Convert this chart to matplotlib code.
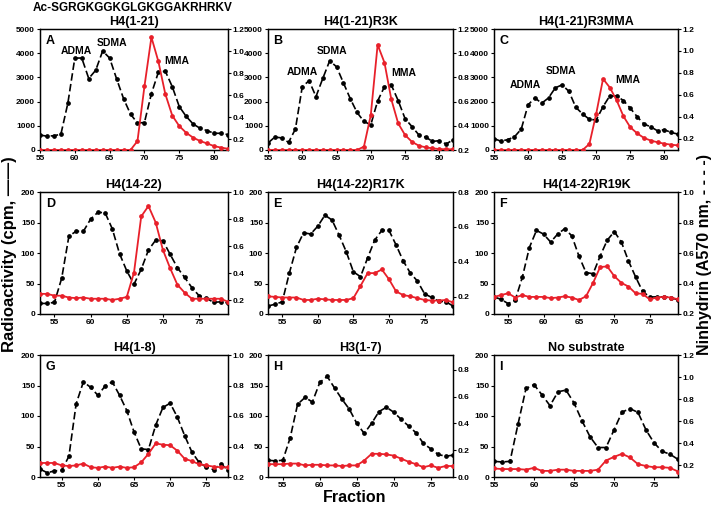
import matplotlib
matplotlib.use("Agg")
import matplotlib.pyplot as plt

plt.rcParams['font.family'] = ['Liberation Sans', 'DejaVu Sans']
plt.rcParams['font.weight'] = 'bold'
plt.rcParams['axes.labelweight'] = 'bold'

# ---- data ----
frac_A = list(range(55, 83))
red_A = [0, 0, 0, 0, 0, 0, 0, 0, 0, 0, 0, 0, 0, 0, 370, 2630, 4660, 3660, 2310, 1420,
         990, 710, 510, 370, 270, 160, 100, 50]
black_A = [0.237, 0.225, 0.23, 0.243, 0.525, 0.936, 0.936, 0.75, 0.825, 1.0, 0.936, 0.747,
           0.567, 0.426, 0.345, 0.35, 0.612, 0.807, 0.816, 0.675, 0.495, 0.405, 0.336, 0.297,
           0.276, 0.252, 0.252, 0.24]

frac_B = list(range(55, 83))
red_B = [0, 0, 0, 0, 0, 0, 0, 0, 0, 0, 0, 0, 0, 0, 140, 1440, 4350, 3610, 2090, 1100,
         620, 340, 180, 110, 70, 40, 30, 30]
black_B = [0.258, 0.307, 0.3, 0.263, 0.373, 0.723, 0.773, 0.641, 0.792, 0.937, 0.888, 0.756,
           0.625, 0.51, 0.436, 0.408, 0.605, 0.723, 0.737, 0.608, 0.46, 0.394, 0.326, 0.307,
           0.271, 0.277, 0.249, 0.285]

frac_C = list(range(55, 83))
red_C = [0, 0, 0, 0, 0, 0, 0, 0, 0, 0, 0, 0, 0, 0, 250, 1500, 2940, 2580, 2050, 1390,
         940, 690, 500, 390, 320, 260, 220, 190]
black_C = [0.2, 0.175, 0.19, 0.215, 0.286, 0.507, 0.571, 0.522, 0.571, 0.663, 0.69, 0.63,
           0.485, 0.424, 0.375, 0.369, 0.491, 0.59, 0.587, 0.547, 0.476, 0.4, 0.332, 0.307,
           0.27, 0.28, 0.255, 0.24]

frac_D = list(range(53, 80))
red_D = [33, 33, 30, 30, 27, 26, 27, 25, 25, 25, 23, 25, 28, 68, 160, 177, 150, 105, 75,
         48, 35, 25, 25, 25, 25, 25, 20]
black_D = [0.178, 0.178, 0.186, 0.364, 0.675, 0.71, 0.71, 0.8, 0.85, 0.847, 0.728, 0.545,
           0.418, 0.32, 0.43, 0.572, 0.645, 0.64, 0.54, 0.442, 0.37, 0.295, 0.235, 0.217,
           0.186, 0.19, 0.181]

frac_E = list(range(53, 80))
red_E = [29, 28, 27, 27, 27, 23, 23, 25, 24, 23, 23, 23, 26, 46, 67, 67, 73, 57, 37, 31,
         29, 26, 23, 22, 22, 23, 19]
black_E = [0.146, 0.156, 0.17, 0.335, 0.482, 0.566, 0.559, 0.604, 0.667, 0.639, 0.552,
           0.457, 0.342, 0.314, 0.422, 0.524, 0.58, 0.58, 0.496, 0.405, 0.335, 0.289, 0.216,
           0.195, 0.174, 0.17, 0.146]

frac_F = list(range(53, 80))
red_F = [28, 31, 34, 27, 31, 28, 28, 28, 26, 27, 29, 27, 23, 29, 51, 77, 78, 62, 51, 45,
         34, 33, 24, 27, 28, 27, 24]
black_F = [0.312, 0.296, 0.268, 0.292, 0.44, 0.636, 0.748, 0.724, 0.672, 0.724, 0.76, 0.712,
           0.58, 0.472, 0.464, 0.58, 0.684, 0.74, 0.672, 0.548, 0.444, 0.348, 0.312, 0.312,
           0.312, 0.308, 0.292]

frac_G = list(range(52, 79))
red_G = [23, 23, 23, 19, 18, 19, 22, 16, 15, 17, 15, 17, 15, 16, 24, 38, 55, 53, 52, 43,
         30, 26, 21, 19, 17, 16, 16]
black_G = [0.252, 0.228, 0.24, 0.244, 0.336, 0.68, 0.824, 0.788, 0.736, 0.796, 0.824, 0.736,
           0.636, 0.496, 0.384, 0.38, 0.54, 0.656, 0.684, 0.592, 0.472, 0.364, 0.296, 0.264,
           0.248, 0.288, 0.244]

frac_H = list(range(53, 79))
red_H = [21, 21, 21, 22, 22, 19, 20, 20, 19, 19, 18, 19, 19, 27, 38, 38, 37, 35, 30, 25,
         21, 16, 19, 15, 18, 18]
black_H = [0.125, 0.12, 0.125, 0.293, 0.543, 0.593, 0.56, 0.705, 0.75, 0.663, 0.58, 0.505,
           0.4, 0.325, 0.4, 0.488, 0.52, 0.483, 0.43, 0.38, 0.33, 0.25, 0.21, 0.168, 0.155,
           0.163]

frac_I = list(range(55, 79))
red_I = [14, 13, 13, 13, 12, 15, 10, 10, 12, 12, 10, 10, 10, 12, 27, 33, 38, 32, 21, 18,
         16, 16, 15, 9]
black_I = [0.237, 0.231, 0.237, 0.573, 0.897, 0.931, 0.839, 0.741, 0.867, 0.882, 0.766,
           0.604, 0.46, 0.362, 0.362, 0.521, 0.683, 0.714, 0.68, 0.521, 0.405, 0.328, 0.301,
           0.255]

titles = ['H4(1-21)', 'H4(1-21)R3K', 'H4(1-21)R3MMA', 'H4(14-22)', 'H4(14-22)R17K',
          'H4(14-22)R19K', 'H4(1-8)', 'H3(1-7)', 'No substrate']
letters = ['A', 'B', 'C', 'D', 'E', 'F', 'G', 'H', 'I']

W, H = 713, 509
fig = plt.figure(figsize=(W / 100, H / 100), dpi=100)

cols = [(40, 228), (268, 453), (494, 678)]
rows = [(29, 150), (192, 314), (355, 477)]

RED = '#e8202a'


def make_axes(col, row):
    x0, x1 = cols[col]
    y0, y1 = rows[row]
    return fig.add_axes([x0 / W, 1 - y1 / H, (x1 - x0) / W, (y1 - y0) / H])


def draw_panel(i, x, red, black, xlim, xticks, lylim, lyticks, rylim, ryticks, notes=None):
    ax = make_axes(i % 3, i // 3)
    ax2 = ax.twinx()
    ax.plot(x, red, color=RED, lw=1.3, marker='o', ms=2.4, zorder=3)
    ax2.plot(x, black, color='black', lw=1.2, ls=(0, (4.5, 2)), marker='o', ms=2.4)
    ax.set_zorder(ax2.get_zorder() + 1)
    ax.patch.set_visible(False)
    ax.set_xlim(xlim)
    ax.set_xticks(xticks)
    ax.set_ylim(lylim)
    ax.set_yticks(lyticks)
    ax2.set_ylim(rylim)
    ax2.set_yticks(ryticks)
    ax2.set_yticklabels(['%.1f' % t for t in ryticks])
    for a in (ax, ax2):
        a.tick_params(labelsize=6, length=2.5, width=0.8, pad=1)
        for s in a.spines.values():
            s.set_linewidth(0.9)
    ax.set_title(titles[i], fontsize=9, fontweight='bold', pad=3)
    ax.text(0.03, 0.95, letters[i], transform=ax.transAxes, fontsize=9,
            fontweight='bold', va='top', ha='left')
    if notes:
        for label, nx, ny in notes:
            ax.text(nx, ny, label, fontsize=7.5, fontweight='bold', ha='center', va='center')
    return ax


big_ticks = [0, 1000, 2000, 3000, 4000, 5000]
small_ticks = [0, 50, 100, 150, 200]

draw_panel(0, frac_A, red_A, black_A, (55, 82), [55, 60, 65, 70, 75, 80], (0, 5000), big_ticks,
           (0.1, 1.2), [0.2, 0.4, 0.6, 0.8, 1.0, 1.2],
           [('ADMA', 60.2, 4090), ('SDMA', 65.3, 4420), ('MMA', 74.7, 3680)])
draw_panel(1, frac_B, red_B, black_B, (55, 82), [55, 60, 65, 70, 75, 80], (0, 5000), big_ticks,
           (0.2, 1.2), [0.2, 0.4, 0.6, 0.8, 1.0, 1.2],
           [('ADMA', 60.0, 3220), ('SDMA', 64.3, 4090), ('MMA', 74.8, 3180)])
draw_panel(2, frac_C, red_C, black_C, (55, 82), [55, 60, 65, 70, 75, 80], (0, 5000), big_ticks,
           (0.095, 1.2), [0.2, 0.4, 0.6, 0.8, 1.0, 1.2],
           [('ADMA', 59.6, 2690), ('SDMA', 64.9, 3260), ('MMA', 74.6, 2890)])
draw_panel(3, frac_D, red_D, black_D, (53, 79), [55, 60, 65, 70, 75], (0, 200), small_ticks,
           (0.1, 1.0), [0.2, 0.4, 0.6, 0.8, 1.0])
draw_panel(4, frac_E, red_E, black_E, (53, 79), [55, 60, 65, 70, 75], (0, 200), small_ticks,
           (0.1, 0.8), [0.2, 0.4, 0.6, 0.8])
draw_panel(5, frac_F, red_F, black_F, (53, 79), [55, 60, 65, 70, 75], (0, 200), small_ticks,
           (0.2, 1.0), [0.2, 0.4, 0.6, 0.8, 1.0])
draw_panel(6, frac_G, red_G, black_G, (52, 78), [55, 60, 65, 70, 75], (0, 200), small_ticks,
           (0.2, 1.0), [0.2, 0.4, 0.6, 0.8, 1.0])
draw_panel(7, frac_H, red_H, black_H, (53, 78), [55, 60, 65, 70, 75], (0, 200), small_ticks,
           (0.0, 0.91), [0.0, 0.2, 0.4, 0.6, 0.8])
draw_panel(8, frac_I, red_I, black_I, (55, 78), [55, 60, 65, 70, 75], (0, 200), small_ticks,
           (0.095, 1.2), [0.2, 0.4, 0.6, 0.8, 1.0, 1.2])

fig.text(133 / W, 1 - 8 / H, 'Ac-SGRGKGGKGLGKGGAKRHRKV', fontsize=8.5, fontweight='bold',
         ha='center', va='center')
fig.text(10 / W, 0.5, 'Radioactivity (cpm, \u2014\u2014)', fontsize=12, fontweight='bold',
         rotation=90, ha='center', va='center')
fig.text(704 / W, 0.5, 'Ninhydrin (A570 nm, - - - -)', fontsize=11.5, fontweight='bold',
         rotation=90, ha='center', va='center')
fig.text(355 / W, 1 - 498 / H, 'Fraction', fontsize=11.5, fontweight='bold',
         ha='center', va='center')

fig.savefig('out.png', dpi=100)
